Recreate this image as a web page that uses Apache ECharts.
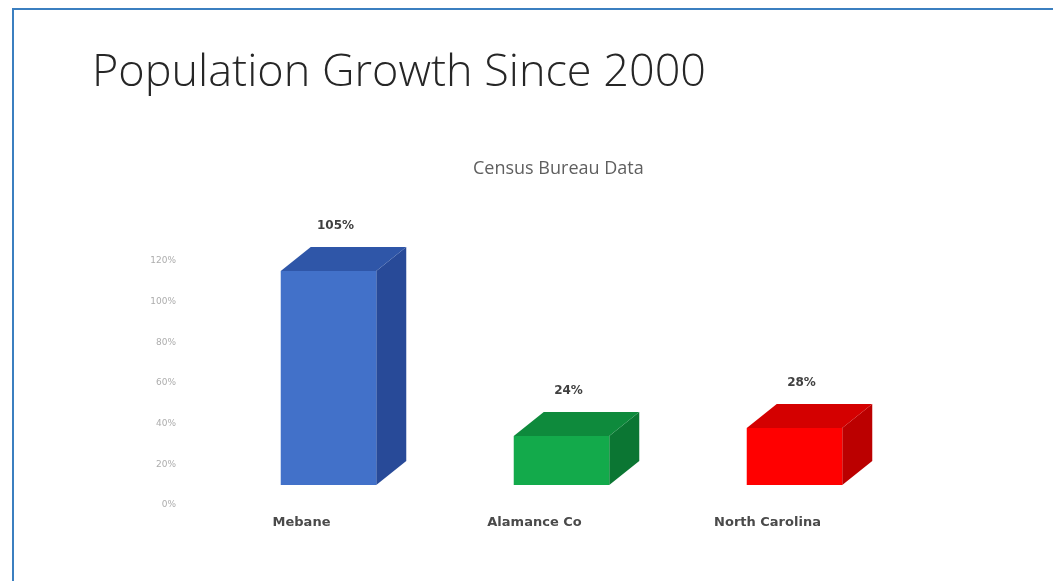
<!DOCTYPE html>
<html>
<head>
<meta charset="utf-8">
<script src="https://cdn.jsdelivr.net/npm/echarts@6/dist/echarts.min.js"></script>
<style>
  html, body { margin: 0; padding: 0; background: #ffffff; }
  #chart { width: 1053px; height: 581px; }
</style>
</head>
<body>
<div id="chart"></div>
<script>
// Population growth since 2000, by area
const categories = ['Mebane', 'Alamance Co', 'North Carolina'];
const growthPct = [105, 24, 28];
const yTicks = [0, 20, 40, 60, 80, 100, 120];

// front / top / side shades for each box
const faceColors = [
  { front: '#4271c9', top: '#2f56a8', side: '#284a98' },
  { front: '#13aa4b', top: '#0e8a3c', side: '#0b7633' },
  { front: '#ff0000', top: '#d40000', side: '#bb0000' }
];

const DEPTH_X = 30, DEPTH_Y = -24;

const chart = echarts.init(document.getElementById('chart'), null, { renderer: 'canvas' });

const option = {
  backgroundColor: '#ffffff',
  animation: false,
  graphic: [
    {
      type: 'rect', silent: true,
      shape: { x: 13, y: 9, width: 1200, height: 700 },
      style: { fill: 'none', stroke: '#3b7fc0', lineWidth: 2 }
    },
    {
      type: 'text', left: 92, top: 51,
      style: {
        text: 'Population Growth Since 2000',
        font: '300 45px "Open Sans", sans-serif',
        fill: '#262626'
      }
    },
    {
      type: 'text', left: 473, top: 160,
      style: {
        text: 'Census Bureau Data',
        font: '18px "Open Sans", sans-serif',
        fill: '#5f5f5f'
      }
    }
  ],
  grid: [
    { left: 212, right: 142, top: 240.4, bottom: 96 },
    { left: 212, right: 142, top: 261, bottom: 76 }
  ],
  xAxis: [
    {
      type: 'category', gridIndex: 0, data: categories,
      axisLine: { show: false }, axisTick: { show: false }, axisLabel: { show: false }
    },
    {
      type: 'category', gridIndex: 1, data: categories,
      axisLine: { show: false }, axisTick: { show: false },
      axisLabel: {
        margin: 11,
        color: '#4a4a4a',
        fontFamily: 'DejaVu Sans',
        fontWeight: 'bold',
        fontSize: 13,
        padding: [0, 54, 0, 0]
      }
    }
  ],
  yAxis: [
    {
      type: 'value', gridIndex: 0, min: 0, max: 120, interval: 20,
      axisLine: { show: false }, axisTick: { show: false },
      axisLabel: { show: false }, splitLine: { show: false }
    },
    {
      type: 'value', gridIndex: 1, min: yTicks[0], max: yTicks[yTicks.length - 1], interval: 20,
      axisLine: { show: false }, axisTick: { show: false }, splitLine: { show: false },
      axisLabel: {
        margin: 36,
        color: '#adadad',
        fontSize: 9,
        fontFamily: 'DejaVu Sans',
        formatter: '{value}%'
      }
    }
  ],
  series: [
    {
      type: 'custom',
      xAxisIndex: 0, yAxisIndex: 0,
      data: growthPct.map((v, i) => [i, v]),
      renderItem: function (params, api) {
        const idx = api.value(0);
        const val = api.value(1);
        const topPt = api.coord([idx, val]);
        const basePt = api.coord([idx, 0]);
        const bw = api.size([1, 0])[0] * 0.41;
        const x0 = topPt[0] - bw / 2, x1 = topPt[0] + bw / 2;
        const yT = topPt[1], yB = basePt[1];
        const c = faceColors[idx];
        return {
          type: 'group',
          children: [
            {
              type: 'polygon',
              shape: { points: [[x1, yT], [x1 + DEPTH_X, yT + DEPTH_Y], [x1 + DEPTH_X, yB + DEPTH_Y], [x1, yB]] },
              style: { fill: c.side }
            },
            {
              type: 'polygon',
              shape: { points: [[x0, yT], [x0 + DEPTH_X, yT + DEPTH_Y], [x1 + DEPTH_X, yT + DEPTH_Y], [x1, yT]] },
              style: { fill: c.top }
            },
            {
              type: 'rect',
              shape: { x: x0, y: yT, width: bw, height: yB - yT },
              style: { fill: c.front }
            },
            {
              type: 'text',
              style: {
                text: val + '%',
                x: topPt[0] + 7,
                y: yT + DEPTH_Y - 21,
                align: 'center',
                verticalAlign: 'middle',
                font: 'bold 12px "DejaVu Sans", sans-serif',
                fill: '#404040'
              }
            }
          ]
        };
      }
    }
  ]
};

chart.setOption(option);
</script>
</body>
</html>
